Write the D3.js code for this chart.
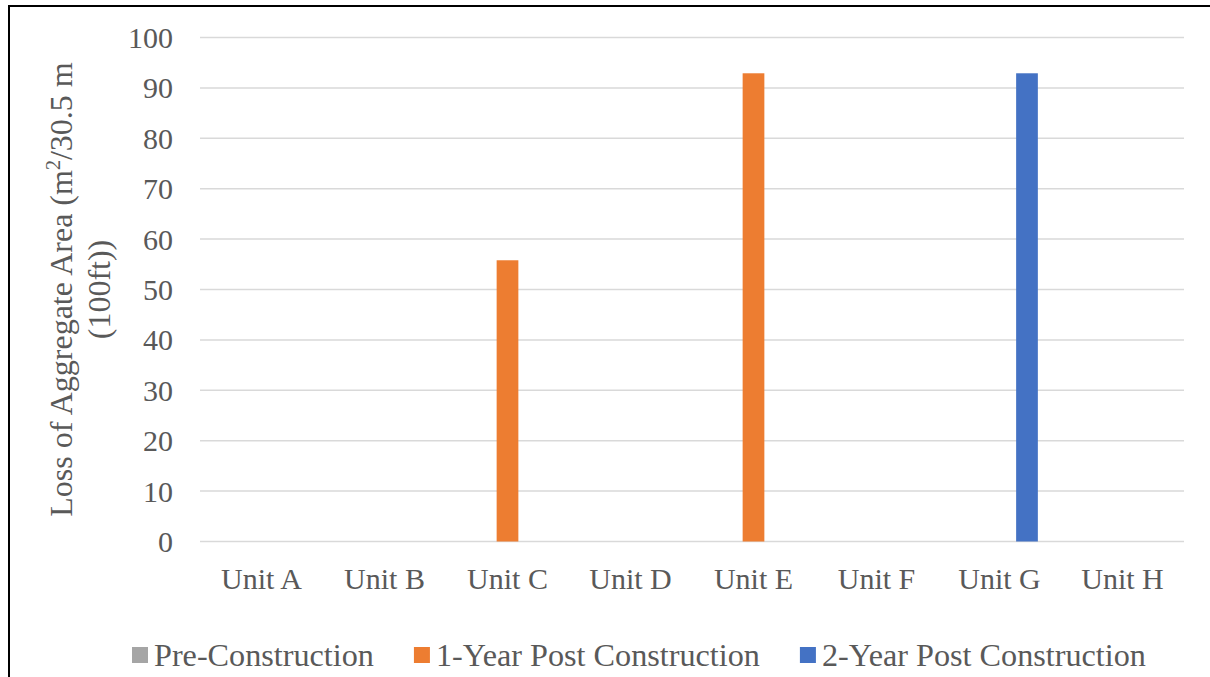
<!DOCTYPE html>
<html><head><meta charset="utf-8">
<script src="https://cdn.jsdelivr.net/npm/d3@7"></script>
<style>body{margin:0;background:#fff}svg{display:block}</style>
</head><body>
<svg id="c" width="1210" height="677"></svg>
<script>
const categories = ["Unit A","Unit B","Unit C","Unit D","Unit E","Unit F","Unit G","Unit H"];
const seriesNames = ["Pre-Construction","1-Year Post Construction","2-Year Post Construction"];
const preConstruction = [0,0,0,0,0,0,0,0];
const oneYearPost = [0,0,55.8,0,92.9,0,0,0];
const twoYearPost = [0,0,0,0,0,0,92.9,0];
const yTicks = [0,10,20,30,40,50,60,70,80,90,100];
const colors = ["#a5a5a5","#ed7d31","#4472c4"];

const seriesValues = [preConstruction, oneYearPost, twoYearPost];
const FONT = "'Liberation Serif', Tinos, 'Times New Roman', 'DejaVu Serif', serif";
const svg = d3.select("#c").attr("font-family", FONT).attr("fill", "#595959");
const L = 200, R = 1184, T = 37.5, B = 541.5;

svg.append("rect").attr("x",9).attr("y",6).attr("width",1400).attr("height",900)
  .attr("fill","none").attr("stroke","#000").attr("stroke-width",2);

const y = d3.scaleLinear().domain([0,100]).range([B,T]);
const p = 1 - 76.7/123;
const x0 = d3.scaleBand().domain(categories).range([L,R]).paddingInner(p).paddingOuter(p/2);
const x1 = d3.scaleBand().domain(seriesNames).range([0,x0.bandwidth()]).paddingInner(0.21).paddingOuter(0);

svg.append("g").selectAll("line").data(yTicks).join("line")
  .attr("x1",L).attr("x2",R).attr("y1",d=>y(d)).attr("y2",d=>y(d))
  .attr("stroke","#d9d9d9").attr("stroke-width",1.5);

svg.append("g").selectAll("text").data(yTicks).join("text")
  .attr("x",173).attr("y",d=>y(d)).attr("dy","0.35em").attr("text-anchor","end")
  .attr("font-family",FONT).attr("fill","#595959")
  .attr("font-size",30).text(d=>d);

const rows = [];
seriesNames.forEach((s,si)=>categories.forEach((c,ci)=>rows.push({s,si,c,v:seriesValues[si][ci]})));
svg.append("g").selectAll("rect").data(rows.filter(r=>r.v>0)).join("rect")
  .attr("x",r=>x0(r.c)+x1(r.s)).attr("width",x1.bandwidth())
  .attr("y",r=>y(r.v)).attr("height",r=>y(0)-y(r.v)).attr("fill",r=>colors[r.si]);

svg.append("g").selectAll("text").data(categories).join("text")
  .attr("x",c=>x0(c)+x0.bandwidth()/2).attr("y",589).attr("text-anchor","middle")
  .attr("font-family",FONT).attr("fill","#595959")
  .attr("font-size",30).text(c=>c);

const cy = (T+B)/2;
const t1 = svg.append("text").attr("transform",`translate(72,${cy}) rotate(-90)`).attr("text-anchor","middle")
  .attr("font-family",FONT).attr("fill","#595959").attr("font-size",32);
t1.append("tspan").text("Loss of Aggregate Area (m");
t1.append("tspan").attr("font-size",20).attr("dy",-12).text("2");
t1.append("tspan").attr("dy",12).text("/30.5 m");
svg.append("text").attr("transform",`translate(110,${cy}) rotate(-90)`).attr("text-anchor","middle")
  .attr("font-family",FONT).attr("fill","#595959").attr("font-size",32).text("(100ft))");

let lx = 132;
const lg = svg.append("g");
seriesNames.forEach((s,i)=>{
  lg.append("rect").attr("x",lx).attr("y",647).attr("width",16).attr("height",16).attr("fill",colors[i]);
  const t = lg.append("text").attr("x",lx+22).attr("y",666).attr("font-family",FONT).attr("fill","#595959").attr("font-size",32.2).text(s);
  lx += 22 + t.node().getComputedTextLength() + 40;
});
</script>
</body></html>
